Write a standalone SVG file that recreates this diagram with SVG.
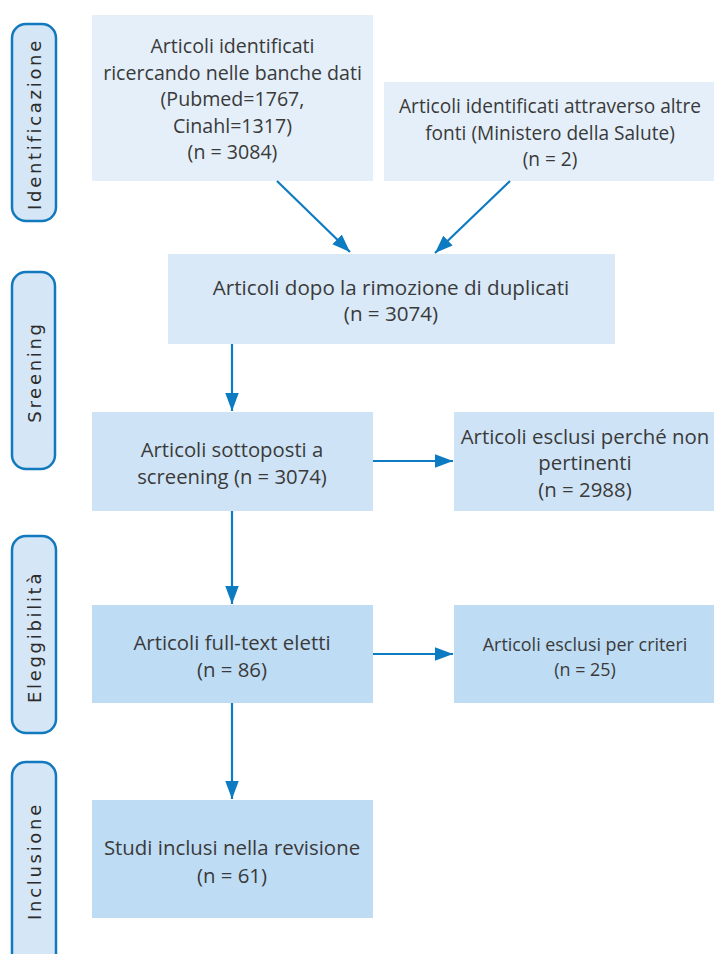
<svg xmlns="http://www.w3.org/2000/svg" width="714" height="954" viewBox="0 0 714 954">
<style>
.side rect{fill:#d5e6f6;stroke:#1379bf;stroke-width:2.5}
.side text{font-family:"DejaVu Sans",sans-serif;font-size:18px;fill:#2b2b2b;letter-spacing:2.7px;text-anchor:middle;dominant-baseline:central}
.t{font-family:"Open Sans","Noto Sans",sans-serif;fill:#3a3a3a;text-anchor:middle}
.c1{fill:#e4eff9}.c2{fill:#d9e9f8}.c3{fill:#cee4f6}.c4{fill:#bedcf4}
.conn line{stroke:#0d7bc1;stroke-width:2.2}
</style>
<defs>
<marker id="ah" markerUnits="userSpaceOnUse" markerWidth="20" markerHeight="14" refX="18" refY="6.75" orient="auto">
<path d="M0,0 L18,6.75 L0,13.5 Z" fill="#0d7bc1"/>
</marker>
</defs>
<g id="side-identificazione" class="side"><rect x="12" y="24" width="44" height="197" rx="14"/><text transform="translate(34,124) rotate(-90)">Identificazione</text></g>
<g id="side-screening" class="side"><rect x="12" y="272" width="43" height="197" rx="14"/><text transform="translate(34,372) rotate(-90)">Sreening</text></g>
<g id="side-eleggibilita" class="side"><rect x="12" y="536" width="44" height="197" rx="14"/><text transform="translate(34,637) rotate(-90)">Eleggibilità</text></g>
<g id="side-inclusione" class="side"><rect x="12" y="762" width="44" height="210" rx="14"/><text transform="translate(34,861) rotate(-90)">Inclusione</text></g>

<g id="n1"><rect class="c1" x="92" y="15" width="281" height="166"/>
<text class="t" font-size="19.6"><tspan x="232.5" y="53">Articoli identificati</tspan><tspan x="232.5" y="80">ricercando nelle banche dati</tspan><tspan x="232.5" y="106">(Pubmed=1767,</tspan><tspan x="232.5" y="133">Cinahl=1317)</tspan><tspan x="232.5" y="159">(n = 3084)</tspan></text></g>
<g id="n2"><rect class="c1" x="384" y="82" width="330" height="99"/>
<text class="t" font-size="19.1"><tspan x="550" y="113">Articoli identificati attraverso altre</tspan><tspan x="550" y="140">fonti (Ministero della Salute)</tspan><tspan x="550" y="166">(n = 2)</tspan></text></g>
<g id="n3"><rect class="c2" x="168" y="254" width="447" height="90"/>
<text class="t" font-size="20.6"><tspan x="391" y="295">Articoli dopo la rimozione di duplicati</tspan><tspan x="391" y="321">(n = 3074)</tspan></text></g>
<g id="n4"><rect class="c3" x="92" y="412" width="281" height="99"/>
<text class="t" font-size="20.3"><tspan x="232" y="457">Articoli sottoposti a</tspan><tspan x="232" y="484">screening (n = 3074)</tspan></text></g>
<g id="n5"><rect class="c3" x="454" y="412" width="260" height="99"/>
<text class="t" font-size="20.4"><tspan x="585" y="444">Articoli esclusi perché non</tspan><tspan x="585" y="470">pertinenti</tspan><tspan x="585" y="497">(n = 2988)</tspan></text></g>
<g id="n6"><rect class="c4" x="92" y="605" width="281" height="98"/>
<text class="t" font-size="20.4"><tspan x="232" y="650">Articoli full-text eletti</tspan><tspan x="232" y="677">(n = 86)</tspan></text></g>
<g id="n7"><rect class="c4" x="454" y="605" width="260" height="98"/>
<text class="t" font-size="17.9"><tspan x="585" y="651">Articoli esclusi per criteri</tspan><tspan x="585" y="676">(n = 25)</tspan></text></g>
<g id="n8"><rect class="c4" x="92" y="800" width="281" height="118"/>
<text class="t" font-size="20.4"><tspan x="232" y="855">Studi inclusi nella revisione</tspan><tspan x="232" y="883">(n = 61)</tspan></text></g>

<g id="connectors" class="conn">
<line x1="277" y1="181" x2="350" y2="252" marker-end="url(#ah)"/>
<line x1="510" y1="181" x2="435" y2="253" marker-end="url(#ah)"/>
<line x1="232" y1="344" x2="232" y2="411" marker-end="url(#ah)"/>
<line x1="232" y1="511" x2="232" y2="604" marker-end="url(#ah)"/>
<line x1="232" y1="703" x2="232" y2="799" marker-end="url(#ah)"/>
<line x1="373" y1="461" x2="453" y2="461" marker-end="url(#ah)"/>
<line x1="373" y1="654" x2="453" y2="654" marker-end="url(#ah)"/>
</g>
</svg>
